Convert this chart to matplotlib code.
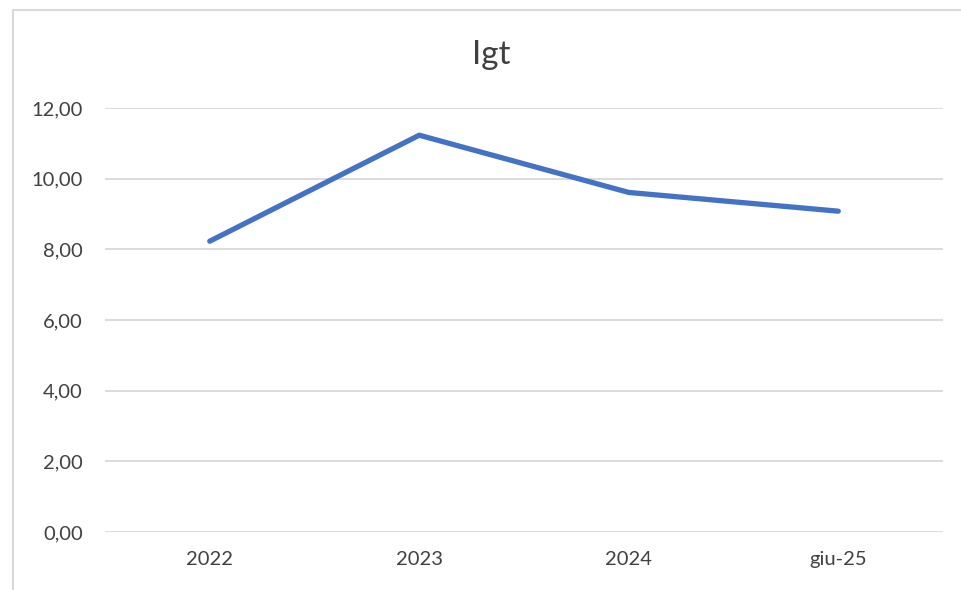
import matplotlib.pyplot as plt
from matplotlib.patches import Rectangle

categories = ["2022", "2023", "2024", "giu-25"]
igt = [8.23, 11.23, 9.61, 9.08]
yticks = [0, 2, 4, 6, 8, 10, 12]

plt.rcParams['font.family'] = ['Lato', 'DejaVu Sans']

fig = plt.figure(figsize=(9.61, 5.90), dpi=100)
# light chart-area border, cut off at bottom and right like the reference
fig.patches.append(Rectangle((12.5 / 961, -0.1), 1.1, 580 / 590 + 0.1,
                             transform=fig.transFigure, fill=False,
                             edgecolor="#d9d9d9", lw=1.5))

ax = fig.add_axes([105 / 961, 58 / 590, (943 - 105) / 961, 424 / 590])
x = range(len(categories))
ax.plot(x, igt, color="#4472C4", lw=3.8, solid_capstyle="round", solid_joinstyle="round")

ax.set_xlim(-0.5, len(categories) - 0.5)
ax.set_ylim(0, 12)
ax.set_yticks(yticks)
ax.set_yticklabels([f"{v:.2f}".replace(".", ",") for v in yticks])
ax.set_xticks(list(x))
ax.set_xticklabels(categories)
ax.grid(axis="y", color="#d9d9d9", lw=1.3)
ax.set_axisbelow(True)
for s in ax.spines.values():
    s.set_visible(False)
ax.tick_params(axis="both", length=0, labelsize=14.5, colors="#404040")
ax.tick_params(axis="y", pad=16)
ax.tick_params(axis="x", pad=14)

fig.text(491 / 961, 1 - 55 / 590, "Igt", ha="center", va="center", fontsize=24, color="#404040")

fig.savefig("out.png", dpi=100)
